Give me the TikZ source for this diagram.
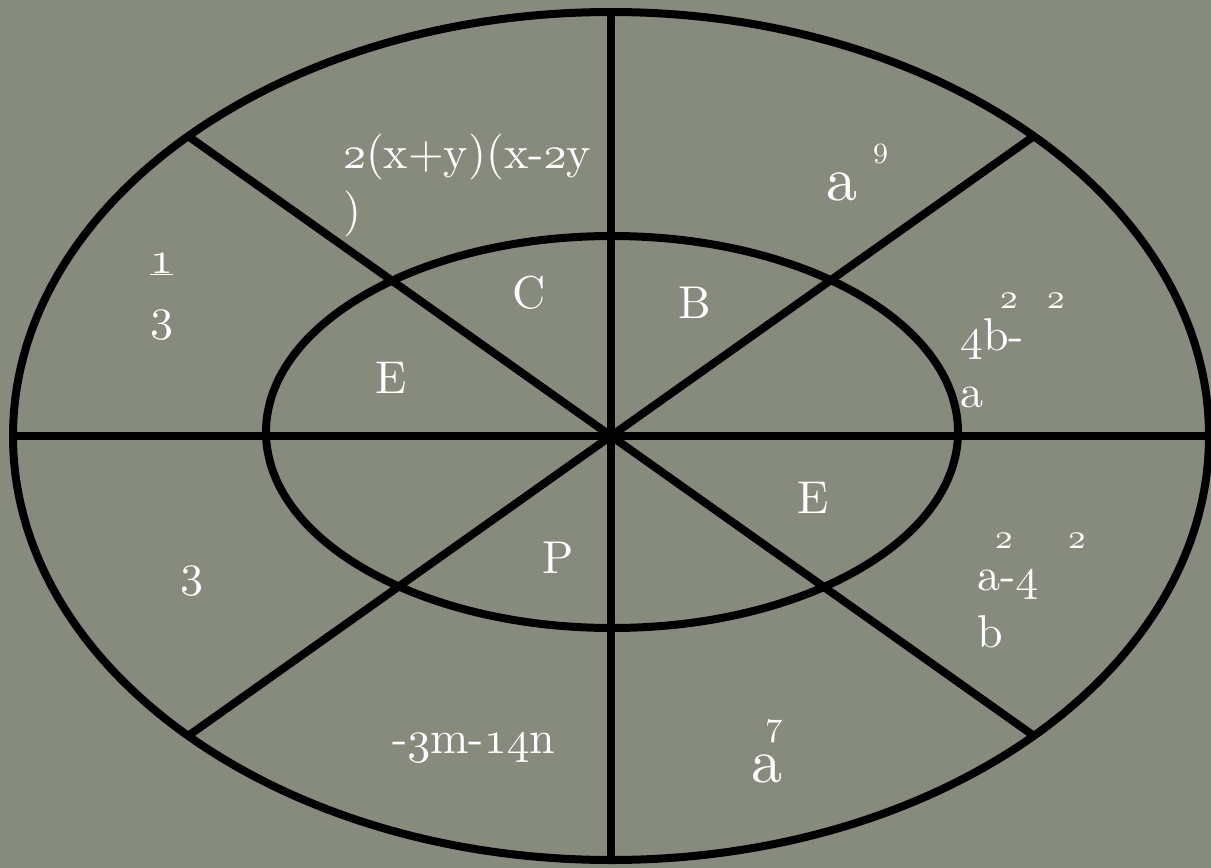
\documentclass[tikz,border=0pt]{standalone}
\usepackage{fontspec}
\setmainfont{lmroman10-regular.otf}
\definecolor{bgc}{RGB}{134,139,126}
\makeatletter
\newcommand{\os}[1]{{\font\osfnt=cmmi10 at \f@size pt\osfnt #1}}
\makeatother
\begin{document}
\begin{tikzpicture}[x=1pt,y=-1pt,
  stroke/.style={line width=8pt,black},
  lbl/.style={anchor=base west,inner sep=0pt,outer sep=0pt,text=white,font=\fontsize{46}{54}\selectfont},
  big/.style={lbl,font=\fontsize{62}{70}\selectfont},
  sup/.style={lbl,font=\fontsize{35}{40}\selectfont},
  supsm/.style={lbl,font=\fontsize{30}{34}\selectfont}]
\fill[bgc] (0,0) rectangle (1211,868);
\useasboundingbox (0,0) rectangle (1211,868);
\coordinate (O) at (611,436);
\coordinate (I) at (612,432);
\coordinate (T) at (611,12);
\coordinate (Bt) at (611,860);
\coordinate (L) at (13,436);
\coordinate (R) at (1209,436);
\coordinate (UL) at (188.2,136.2);
\coordinate (UR) at (1033.8,136.2);
\coordinate (LL) at (188.2,735.8);
\coordinate (LR) at (1033.8,735.8);
\draw[stroke] (O) ellipse [x radius=598pt, y radius=424pt];
\draw[stroke] (I) ellipse [x radius=346pt, y radius=196pt];
\draw[stroke] (T) -- (Bt);
\draw[stroke] (L) -- (R);
\draw[stroke] (UL) -- (LR);
\draw[stroke] (UR) -- (LL);
% labels
\node[lbl] (t1) at (343,168) {\os{2}(x+y)(x-\os{2}y};
\node[lbl] (t1b) at (343,225) {)};
\node[lbl] (c) at (512,308) {C};
\node[lbl] (b) at (678,318) {B};
\node[lbl] (e1) at (375,393) {E};
\node[lbl] (e2) at (797,513) {E};
\node[lbl] (p) at (542,573) {P};
\node[lbl] (one) at (150,273) {\underline{\os{1}}};
\node[lbl] (three) at (150,330) {\os{3}};
\node[lbl] (threeb) at (180,586) {\os{3}};
\node[big] (a9) at (826,200) {a};
\node[supsm] (n9) at (873,157) {\os{9}};
\node[lbl] (fb) at (960,350) {\os{4}b-};
\node[sup] (s1) at (1000,308) {\os{2}};
\node[sup] (s2) at (1047,308) {\os{2}};
\node[lbl] (fa) at (960,407) {a};
\node[lbl] (am) at (977,590) {a-\os{4}};
\node[sup] (s3) at (995,548) {\os{2}};
\node[sup] (s4) at (1068,548) {\os{2}};
\node[lbl] (bb) at (977,647) {b};
\node[lbl] (mn) at (392,753) {-\os{3}m-\os{14}n};
\node[big] (a7) at (751,782) {a};
\node[sup] (n7) at (765,735) {\os{7}};
\end{tikzpicture}
\end{document}
